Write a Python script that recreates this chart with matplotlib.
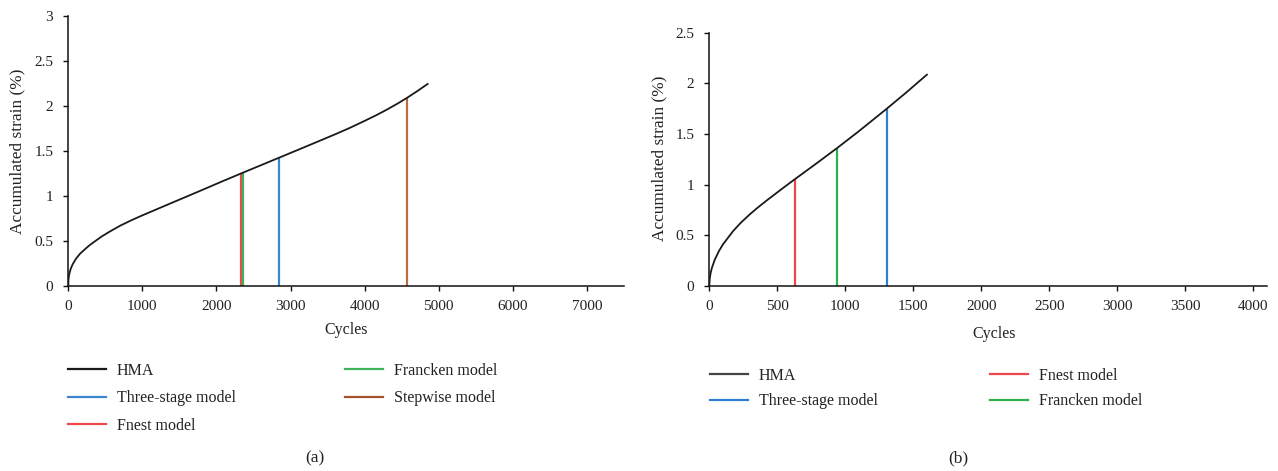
import matplotlib
matplotlib.use("Agg")
import matplotlib.pyplot as plt
from matplotlib.lines import Line2D

plt.rcParams['font.family'] = ['Liberation Serif', 'DejaVu Serif']

# ---- Panel (a): HMA accumulated strain curve and model failure points ----
a_cycles = [0, 2, 5, 8, 15, 25, 35, 50, 65, 85, 110, 130, 160, 200, 240, 290,
            340, 450, 560, 700, 850, 1000, 1200, 1460, 1750, 2050, 2330, 2600,
            2840, 3200, 3600, 3800, 4000, 4150, 4300, 4450, 4570, 4700, 4850]
a_strain = [0, 0.062, 0.089, 0.108, 0.139, 0.170, 0.195, 0.225, 0.25, 0.278,
            0.31, 0.33, 0.36, 0.39, 0.42, 0.455, 0.485, 0.55, 0.605, 0.67,
            0.73, 0.785, 0.855, 0.946, 1.047, 1.153, 1.25, 1.342, 1.424, 1.547,
            1.685, 1.757, 1.835, 1.895, 1.96, 2.03, 2.09, 2.16, 2.245]
a_models = ["Three-stage model", "Fnest model", "Francken model", "Stepwise model"]
a_model_cycles = [2839, 2326, 2362, 4567]
a_model_strain = [1.424, 1.25, 1.26, 2.09]
a_model_colors = ["#3a87d0", "#f04a4f", "#3cb35a", "#b86e42"]

# ---- Panel (b) ----
b_cycles = [0, 3, 10, 20, 40, 70, 100, 175, 230, 300, 360, 420, 545, 630, 780,
            945, 1100, 1305, 1450, 1600]
b_strain = [0, 0.071, 0.13, 0.183, 0.259, 0.343, 0.41, 0.542, 0.622, 0.71,
            0.778, 0.842, 0.97, 1.055, 1.202, 1.367, 1.528, 1.75, 1.912, 2.086]
b_models = ["Three-stage model", "Fnest model", "Francken model"]
b_model_cycles = [1305, 630, 940]
b_model_strain = [1.75, 1.055, 1.362]
b_model_colors = ["#2f80d2", "#f0474f", "#2fb04c"]

a_xticks = [0, 1000, 2000, 3000, 4000, 5000, 6000, 7000]
a_yticks = [0, 0.5, 1, 1.5, 2, 2.5, 3]
a_yticklabels = ["0", "0.5", "1", "1.5", "2", "2.5", "3"]
b_xticks = [0, 500, 1000, 1500, 2000, 2500, 3000, 3500, 4000]
b_yticks = [0, 0.5, 1, 1.5, 2, 2.5]
b_yticklabels = ["0", "0.5", "1", "1.5", "2", "2.5"]

TXT = "#222222"
W, H = 1278, 471
fig = plt.figure(figsize=(W / 100, H / 100), dpi=100)

ax_a = fig.add_axes([68.3 / W, 1 - 286 / H, (624 - 68.3) / W, 270 / H])
ax_b = fig.add_axes([709.3 / W, 1 - 286 / H, (1266.9 - 709.3) / W, 253.3 / H])


def style(ax, xlim, ylim, xticks, yticks, yticklabels):
    ax.set_xlim(*xlim)
    ax.set_ylim(*ylim)
    ax.set_xticks(xticks)
    ax.set_xticklabels([str(t) for t in xticks])
    ax.set_yticks(yticks)
    ax.set_yticklabels(yticklabels)
    for s in ("top", "right"):
        ax.spines[s].set_visible(False)
    for s in ("left", "bottom"):
        ax.spines[s].set_linewidth(1.1)
        ax.spines[s].set_color("#111111")
    ax.tick_params(direction="out", length=3.8, width=1.0, colors="#111111",
                   labelsize=11, labelcolor=TXT)
    ax.tick_params(axis="x", pad=6)
    ax.tick_params(axis="y", pad=7)
    ax.set_xlabel("Cycles", fontsize=11.5, color=TXT)
    ax.set_ylabel("Accumulated strain (%)", fontsize=12.4, color=TXT)


style(ax_a, (0, 7500), (0, 3), a_xticks, a_yticks, a_yticklabels)
style(ax_b, (0, 4100), (0, 2.5), b_xticks, b_yticks, b_yticklabels)
ax_a.xaxis.set_label_coords(0.5, -0.133)
ax_a.yaxis.set_label_coords(-0.077, 0.5)
ax_b.xaxis.set_label_coords(0.51, -0.158)
ax_b.yaxis.set_label_coords(-0.075, 0.505)

# curves
ax_a.plot(a_cycles, a_strain, color="#1a1a1a", lw=1.3, zorder=3)
for x, y, c in zip(a_model_cycles, a_model_strain, a_model_colors):
    ax_a.vlines(x, 0, y, color=c, lw=1.6, zorder=2)

ax_b.plot(b_cycles, b_strain, color="#1a1a1a", lw=1.3, zorder=3)
for x, y, c in zip(b_model_cycles, b_model_strain, b_model_colors):
    ax_b.vlines(x, 0, y, color=c, lw=1.6, zorder=2)


def legend_col(labels, colors, x, y, spacing):
    handles = [Line2D([], [], color=c, lw=1.6) for c in colors]
    leg = fig.legend(handles, labels, loc="upper left",
                     bbox_to_anchor=(x / W, 1 - y / H),
                     bbox_transform=fig.transFigure, frameon=False,
                     borderpad=0, borderaxespad=0, handlelength=2.4,
                     handletextpad=0.65, labelspacing=spacing,
                     prop={"size": 11.5})
    for t in leg.get_texts():
        t.set_color(TXT)
    return leg


# panel (a) legend
legend_col(["HMA", a_models[0], a_models[1]],
           ["#1a1a1a", a_model_colors[0], a_model_colors[1]], 68, 363, 0.72)
legend_col([a_models[2], a_models[3]],
           [a_model_colors[2], "#a5532e"], 345, 363, 0.72)

# panel (b) legend
legend_col(["HMA", b_models[0]],
           ["#444444", b_model_colors[0]], 710, 368, 0.58)
legend_col([b_models[1], b_models[2]],
           [b_model_colors[1], b_model_colors[2]], 990, 368, 0.58)

fig.text(315 / W, 1 - 458 / H, "(a)", ha="center", va="center",
         fontsize=12.5, color=TXT)
fig.text(958 / W, 1 - 458 / H, "(b)", ha="center", va="center",
         fontsize=12.5, color=TXT)

fig.savefig("out.png", dpi=100)
